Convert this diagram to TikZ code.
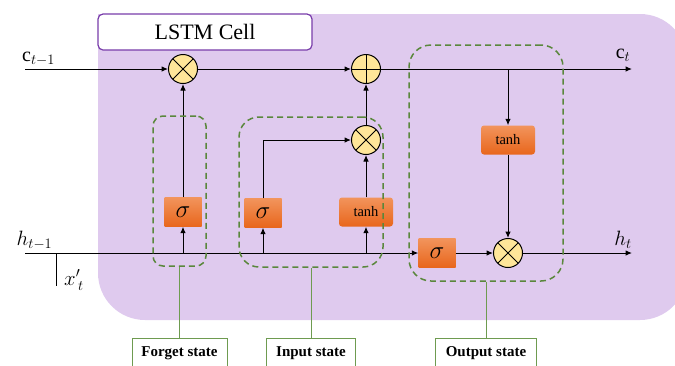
\documentclass[tikz,border=0pt]{standalone}
\usepackage{fontspec}
\setmainfont{Liberation Serif}
\usetikzlibrary{arrows.meta}

\definecolor{cellbg}{RGB}{223,202,238}
\definecolor{cellframe}{RGB}{120,60,170}
\definecolor{gatefill}{RGB}{255,230,153}
\definecolor{stategreen}{RGB}{90,135,60}
\definecolor{labelgreen}{RGB}{110,155,80}
\definecolor{acttop}{RGB}{242,148,92}
\definecolor{actbot}{RGB}{232,102,28}

\tikzset{
  arr/.style={-{Latex[length=6.5pt,width=5.5pt]}, line width=1pt},
  op/.style={circle, draw=black, line width=1pt, fill=gatefill,
    minimum size=29pt, inner sep=0pt},
  mulop/.style={op, path picture={\draw[line width=1pt]
    (path picture bounding box.north west) -- (path picture bounding box.south east)
    (path picture bounding box.north east) -- (path picture bounding box.south west);}},
  addop/.style={op, path picture={\draw[line width=1pt]
    (path picture bounding box.north) -- (path picture bounding box.south)
    (path picture bounding box.west) -- (path picture bounding box.east);}},
  act/.style={draw=none, top color=acttop, bottom color=actbot, inner sep=0pt,
    minimum height=29pt},
  sigbox/.style={act, minimum width=37pt, font=\fontsize{27}{27}\selectfont},
  tanhbox/.style={act, rounded corners=3pt, minimum width=54pt,
    font=\fontsize{14.5}{14.5}\selectfont},
  statebox/.style={draw=stategreen, line width=1.5pt, dash pattern=on 6pt off 4pt},
  statelabel/.style={draw=labelgreen, line width=1pt, fill=white, inner sep=0pt,
    minimum height=30pt, font=\fontsize{15}{15}\selectfont\bfseries},
  labelline/.style={draw=labelgreen, line width=1pt},
  mathlbl/.style={inner sep=0pt},
}

\begin{document}
\begin{tikzpicture}[x=1pt,y=-1pt]
\useasboundingbox (0,0) rectangle (675,365);
\clip (0,0) rectangle (675,365);

% cell background
\fill[cellbg, rounded corners=47pt] (98,320) rectangle (687,14);
\fill[cellbg] (98,14) rectangle (160,80);

% title box
\node[draw=cellframe, line width=1.2pt, fill=white, rounded corners=5pt,
  minimum width=214pt, minimum height=36pt, inner sep=0pt,
  font=\fontsize{22}{22}\selectfont] (title) at (205,32) {LSTM Cell};

% end points of the state lines
\coordinate (cin) at (25,69);
\coordinate (cout) at (632,69);
\coordinate (hin) at (25,253);
\coordinate (hout) at (632,253);
\coordinate (xtop) at (56,253);
\coordinate (xbot) at (56,286);

% operators
\node[mulop] (fmul) at (183,69) {};
\node[addop] (cadd) at (366,69) {};
\node[mulop] (imul) at (366,140) {};
\node[mulop] (omul) at (508,253) {};

% activations
\node[sigbox] (fsig) at (183,212) {$\sigma$};
\node[sigbox] (isig) at (263,213) {$\sigma$};
\node[tanhbox] (itanh) at (366,212) {tanh};
\node[sigbox] (osig) at (437,253) {$\sigma$};
\node[tanhbox] (otanh) at (508,140) {tanh};

% cell state path
\draw[arr] (cin) -- (fmul);
\draw[arr] (fmul) -- (cadd);
\draw[arr] (cadd) -- (cout);

% hidden state path
\draw[arr] (hin) -- (osig.west);
\draw[line width=1pt] (xtop) -- (xbot);

% forget gate
\draw[arr] (fsig |- hin) -- (fsig.south);
\draw[arr] (fsig.north) -- (fmul.south);

% input gate
\draw[arr] (isig |- hin) -- (isig.south);
\draw[arr] (isig.north) |- (imul.west);
\draw[arr] (itanh |- hin) -- (itanh.south);
\draw[arr] (itanh.north) -- (imul.south);
\draw[arr] (imul.north) -- (cadd.south);

% output gate
\draw[arr] (otanh |- cin) -- (otanh.north);
\draw[arr] (otanh.south) -- (omul.north);
\draw[arr] (osig.east) -- (omul.west);
\draw[arr] (omul.east) -- (hout);

% signal names
\node[mathlbl, font=\fontsize{20}{20}\selectfont] (lcin) at (38.5,59) {$\mathrm{c}_{t-1}$};
\node[mathlbl, font=\fontsize{20}{20}\selectfont] (lcout) at (623,55) {$\mathrm{c}_{t}$};
\node[mathlbl, font=\fontsize{22}{22}\selectfont] (lhin) at (34.5,240) {$h_{t-1}$};
\node[mathlbl, font=\fontsize{22}{22}\selectfont] (lhout) at (623,240) {$h_{t}$};
\node[mathlbl, font=\fontsize{21}{21}\selectfont] (lx) at (74,280) {$x'_{\,t}$};

% gate groups
\node[statebox, rounded corners=10pt, minimum width=53pt, minimum height=150pt,
  inner sep=0pt] (fbox) at (179.5,191) {};
\node[statebox, rounded corners=20pt, minimum width=144pt, minimum height=150pt,
  inner sep=0pt] (ibox) at (311,192) {};
\node[statebox, rounded corners=22pt, minimum width=154pt, minimum height=236pt,
  inner sep=0pt] (obox) at (486,163) {};

% group captions
\node[statelabel, minimum width=95pt] (flabel) at (179.5,353) {Forget state};
\node[statelabel, minimum width=89pt] (ilabel) at (311,353) {Input state};
\node[statelabel, minimum width=101pt] (olabel) at (486,353) {Output state};
\draw[labelline] (fbox.south) -- (flabel.north);
\draw[labelline] (ibox.south) -- (ilabel.north);
\draw[labelline] (obox.south) -- (olabel.north);
\end{tikzpicture}
\end{document}
